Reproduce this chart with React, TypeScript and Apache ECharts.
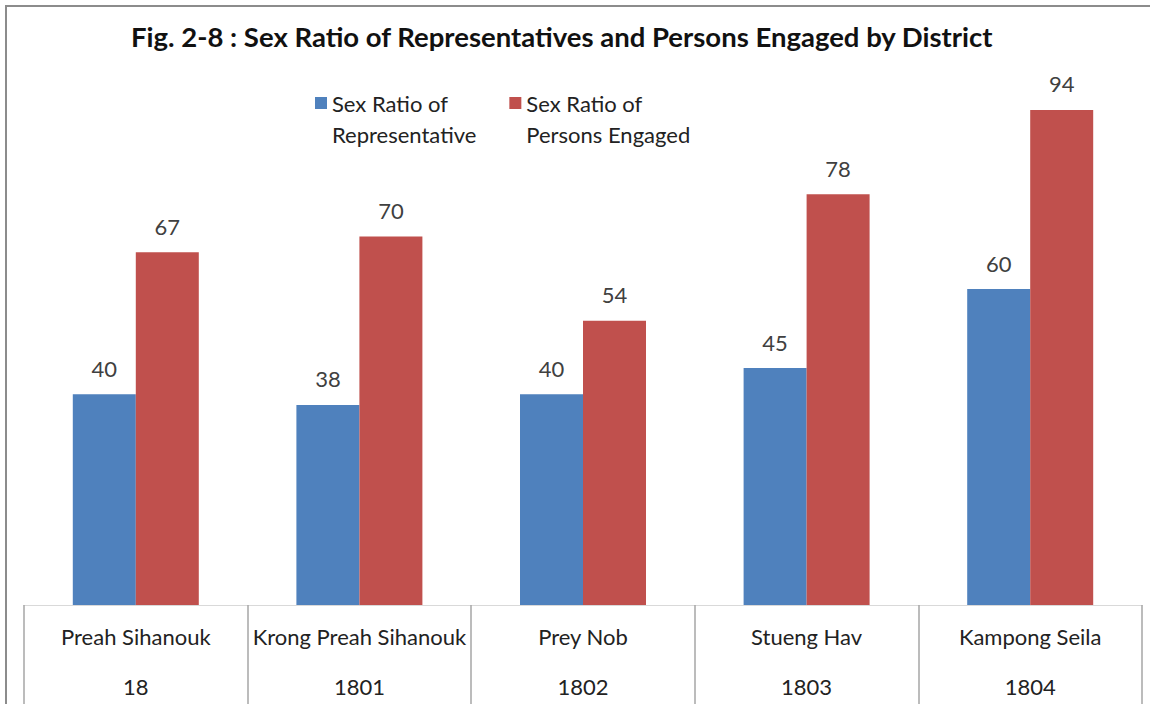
import React, { useEffect, useRef } from "react";
import * as echarts from "echarts";

const districts = ["Preah Sihanouk", "Krong Preah Sihanouk", "Prey Nob", "Stueng Hav", "Kampong Seila"];
const codes = ["18", "1801", "1802", "1803", "1804"];
const representative = [40, 38, 40, 45, 60];
const personsEngaged = [67, 70, 54, 78, 94];
const seriesNames = ["Sex Ratio of\nRepresentative", "Sex Ratio of\nPersons Engaged"];
const titleText = "Fig. 2-8 : Sex Ratio of Representatives and Persons Engaged by District";

const FONT = "Lato, 'Open Sans', sans-serif";

export default function App() {
  const ref = useRef<HTMLDivElement>(null);
  useEffect(() => {
    document.body.style.margin = "0";
    const chart = echarts.init(ref.current!, null, { renderer: "svg" });
    const labelStyle = {
      show: true,
      position: "top" as const,
      distance: 15,
      fontFamily: FONT,
      fontSize: 22,
      color: "#404040",
    };
    chart.setOption({
      animation: false,
      backgroundColor: "#ffffff",
      title: {
        text: titleText,
        left: 126,
        top: 17,
        textStyle: { fontFamily: FONT, fontSize: 27.5, fontWeight: "bold", color: "#111" },
      },
      legend: {
        left: 310,
        top: 56,
        itemWidth: 12,
        itemHeight: 12,
        itemGap: 33,
        icon: "rect",
        formatter: (name: string) => {
          const [a, b] = name.split("\n");
          return `{e| }\n{t|${a}}\n{t|${b}}`;
        },
        textStyle: {
          fontFamily: FONT,
          fontSize: 22,
          color: "#222",
          rich: {
            e: { fontFamily: FONT, fontSize: 22, lineHeight: 31 },
            t: { fontFamily: FONT, fontSize: 22, color: "#222", lineHeight: 31 },
          },
        },
        data: seriesNames,
      },
      graphic: [
        {
          type: "rect",
          shape: { x: 6, y: 6, width: 1300, height: 900 },
          style: { fill: "none", stroke: "#8c8c8c", lineWidth: 2 },
          silent: true,
        },
      ],
      grid: { left: 24, right: 8, top: 78.4, bottom: 99, outerBoundsMode: "none", containLabel: false },
      xAxis: {
        type: "category",
        data: districts,
        axisLine: { show: true, lineStyle: { color: "#d9d9d9", width: 1 } },
        axisTick: { show: true, length: 100, interval: 0, lineStyle: { color: "#a6a6a6", width: 1.5 } },
        axisLabel: {
          interval: 0,
          margin: 6,
          formatter: (v: string, i: number) => `{n|${v}}\n{c|${codes[i]}}`,
          rich: {
            n: { fontFamily: FONT, fontSize: 22, color: "#222", lineHeight: 50 },
            c: { fontFamily: FONT, fontSize: 22, color: "#222", lineHeight: 50 },
          },
        },
      },
      yAxis: {
        type: "value",
        min: 0,
        max: 100,
        show: false,
        splitLine: { show: false },
      },
      series: [
        {
          name: seriesNames[0],
          type: "bar",
          data: representative,
          barWidth: 63,
          barGap: "0%",
          itemStyle: { color: "#4F81BD" },
          label: labelStyle,
        },
        {
          name: seriesNames[1],
          type: "bar",
          data: personsEngaged,
          barWidth: 63,
          barGap: "0%",
          itemStyle: { color: "#C0504D" },
          label: labelStyle,
        },
      ],
    });
    return () => chart.dispose();
  }, []);
  return <div ref={ref} style={{ position: "fixed", left: 0, top: 0, width: 1150, height: 704 }} />;
}
